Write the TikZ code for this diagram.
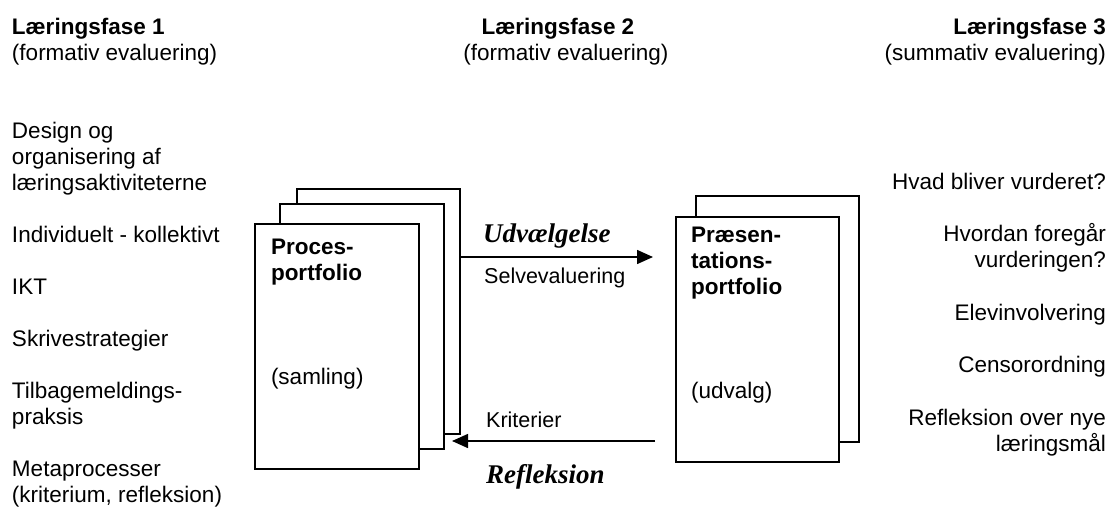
\documentclass[tikz,border=0pt]{standalone}
\usepackage{fontspec}
\setmainfont{Liberation Sans}
\newfontfamily\timesf{Liberation Serif}
\usetikzlibrary{arrows.meta}
\begin{document}
\begin{tikzpicture}[x=1pt,y=-1pt,
  txt/.style={inner sep=0pt, outer sep=0pt, font=\fontsize{22.5}{26}\selectfont},
  lft/.style={txt, anchor=base west, align=left},
  rgt/.style={txt, anchor=base east, align=right},
  ctr/.style={txt, anchor=base},
  lbl/.style={inner sep=0pt, anchor=base west, font=\fontsize{21.5}{26}\selectfont},
  emph/.style={inner sep=0pt, anchor=base west, font=\timesf\bfseries\itshape\fontsize{27}{30}\selectfont},
  page/.style={draw=black, fill=white, line width=1.5pt, inner sep=0pt, anchor=north west},
  arr/.style={line width=1.5pt, -{Triangle[length=16pt,width=14pt]}}
]
\fill[white] (0,0) rectangle (1110,506);
\useasboundingbox (0,0) rectangle (1110,506);

% headers
\node[lft] (h1a) at (12,34) {\bfseries Læringsfase 1};
\node[lft] (h1b) at (12,60) {(formativ evaluering)};
\node[ctr] (h2a) at (558,34) {\bfseries Læringsfase 2};
\node[ctr] (h2b) at (566,60) {(formativ evaluering)};
\node[rgt] (h3a) at (1106,34) {\bfseries Læringsfase 3};
\node[rgt] (h3b) at (1106,60) {(summativ evaluering)};

% left column (multi-line nodes are placed by their last baseline)
\node[lft] (l1) at (12,190) {Design og\\organisering af\\læringsaktiviteterne};
\node[lft] (l2) at (12,242) {Individuelt - kollektivt};
\node[lft] (l3) at (12,294) {IKT};
\node[lft] (l4) at (12,346) {Skrivestrategier};
\node[lft] (l5) at (12,424) {Tilbagemeldings-\\praksis};
\node[lft] (l6) at (12,502) {Metaprocesser\\(kriterium, refleksion)};

% right column
\node[rgt] (r1) at (1106,189) {Hvad bliver vurderet?};
\node[rgt] (r2) at (1106,267) {Hvordan foregår\\vurderingen?};
\node[rgt] (r3) at (1106,320) {Elevinvolvering};
\node[rgt] (r4) at (1106,372) {Censorordning};
\node[rgt] (r5) at (1106,451) {Refleksion over nye\\læringsmål};

% process portfolio stack
\node[page, minimum width=163pt, minimum height=245pt] (procback) at (296,188) {};
\node[page, minimum width=164pt, minimum height=245pt] (procmid) at (279,203) {};
\node[page, minimum width=164pt, minimum height=245pt] (procfront) at (254,223) {};
\node[lft] (proct) at (271,280) {\bfseries Proces-\\\bfseries portfolio};
\node[lft] (procs) at (271,384) {(samling)};

% presentation portfolio stack
\node[page, minimum width=163pt, minimum height=246pt] (presback) at (695,195) {};
\node[page, minimum width=163pt, minimum height=245pt] (presfront) at (675,216) {};
\node[lft] (prest) at (691,294) {\bfseries Præsen-\\\bfseries tations-\\\bfseries portfolio};
\node[lft] (press) at (691,398) {(udvalg)};

% arrows
\coordinate (selstart) at (459,257);
\coordinate (selend) at (653,257);
\draw[arr] (selstart) -- (selend);
\coordinate (refstart) at (655,441);
\coordinate (refend) at (452,441);
\draw[arr] (refstart) -- (refend);

\node[emph] (udv) at (483,242) {Udvælgelse};
\node[lbl] (selv) at (484,283) {Selvevaluering};
\node[lbl] (krit) at (486,427) {Kriterier};
\node[emph] (refl) at (486,483) {Refleksion};
\end{tikzpicture}
\end{document}
